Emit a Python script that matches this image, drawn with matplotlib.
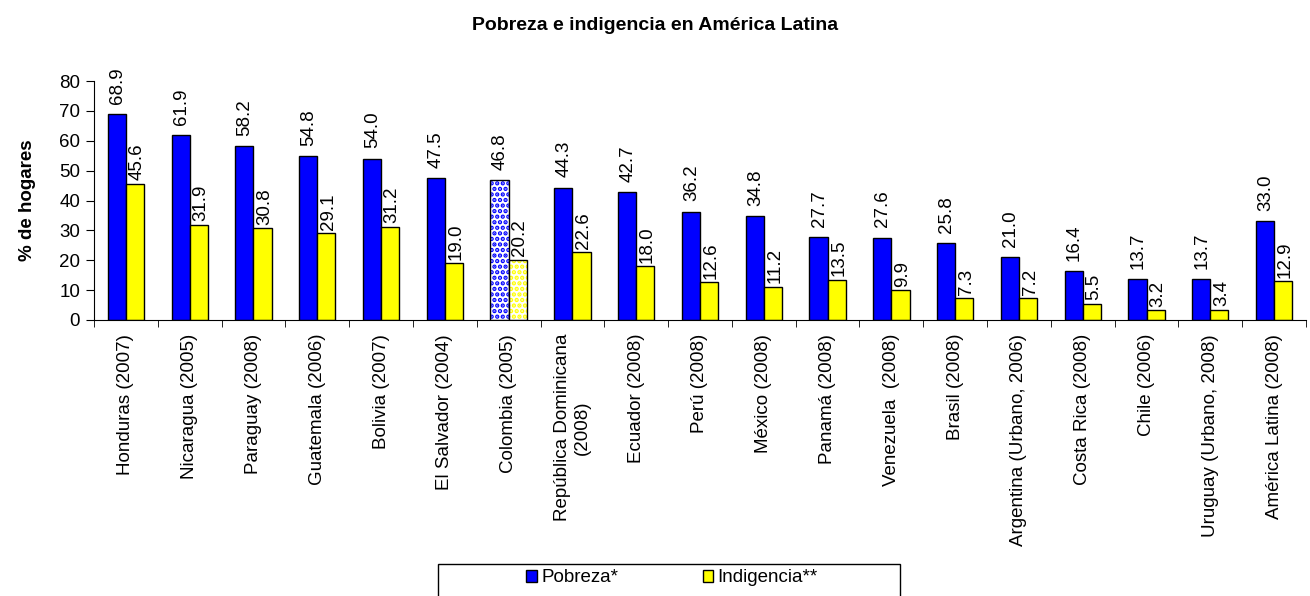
import matplotlib
matplotlib.use("Agg")
import matplotlib.pyplot as plt
from matplotlib.patches import Rectangle, Patch
import numpy as np

plt.rcParams['font.family'] = ['Liberation Sans', 'DejaVu Sans']
plt.rcParams['hatch.linewidth'] = 2.2

categories = ["Honduras (2007)", "Nicaragua (2005)", "Paraguay (2008)", "Guatemala (2006)",
              "Bolivia (2007)", "El Salvador (2004)", "Colombia (2005)",
              "República Dominicana\n(2008)", "Ecuador (2008)", "Perú (2008)", "México (2008)",
              "Panamá (2008)", "Venezuela  (2008)", "Brasil (2008)", "Argentina (Urbano, 2006)",
              "Costa Rica (2008)", "Chile (2006)", "Uruguay (Urbano, 2008)", "América Latina (2008)"]
pobreza = [68.9, 61.9, 58.2, 54.8, 54.0, 47.5, 46.8, 44.3, 42.7, 36.2, 34.8, 27.7, 27.6,
           25.8, 21.0, 16.4, 13.7, 13.7, 33.0]
indigencia = [45.6, 31.9, 30.8, 29.1, 31.2, 19.0, 20.2, 22.6, 18.0, 12.6, 11.2, 13.5, 9.9,
              7.3, 7.2, 5.5, 3.2, 3.4, 12.9]
hatched_category = "Colombia (2005)"

BLUE = "#0000FF"
YELLOW = "#FFFF00"
FS = 13.5

fig = plt.figure(figsize=(13.10, 5.96), dpi=100)
ax = fig.add_axes([94/1310, 1-320/596, (1306-94)/1310, (320-81)/596])

n = len(categories)
x = np.arange(n)
w = 0.285

for i in range(n):
    xb = x[i] - w/2
    xy = x[i] + w/2
    if categories[i] == hatched_category:
        ax.bar(xb, pobreza[i], w, color="white", edgecolor=BLUE, hatch="...", linewidth=0)
        ax.bar(xb, pobreza[i], w, fill=False, edgecolor="black", linewidth=1.0)
        ax.bar(xy, indigencia[i], w, color="white", edgecolor=YELLOW, hatch="...", linewidth=0)
        ax.bar(xy, indigencia[i], w, fill=False, edgecolor="black", linewidth=1.0)
    else:
        ax.bar(xb, pobreza[i], w, color=BLUE, edgecolor="black", linewidth=1.0)
        ax.bar(xy, indigencia[i], w, color=YELLOW, edgecolor="black", linewidth=1.0)
    ax.annotate(f"{pobreza[i]:.1f}", (xb, pobreza[i]), xytext=(0.5, 7.5), textcoords="offset points",
                rotation=90, ha="center", va="bottom", fontsize=FS)
    ax.annotate(f"{indigencia[i]:.1f}", (xy, indigencia[i]), xytext=(1.5, 2.5), textcoords="offset points",
                rotation=90, ha="center", va="bottom", fontsize=FS)

ax.set_xlim(-0.5, n - 0.5)
ax.set_ylim(0, 80)
ax.set_yticks(np.arange(0, 81, 10))
ax.tick_params(axis='y', labelsize=FS, direction='out', length=6, pad=4)
ax.set_xticks(x)
ax.set_xticklabels(categories, rotation=90, fontsize=FS, va='top', ha='center', multialignment='center')
ax.tick_params(axis='x', which='major', length=0, pad=10)
ax.set_xticks(np.arange(-0.5, n, 1), minor=True)
ax.tick_params(axis='x', which='minor', length=5, direction='out')
for s in ['top', 'right']:
    ax.spines[s].set_visible(False)
ax.set_ylabel("% de hogares", fontsize=FS, fontweight='bold', labelpad=17)

fig.text(0.5, 1-25/596, "Pobreza e indigencia en América Latina", ha='center', va='center',
         fontsize=14, fontweight='bold')

# legend box
fig.patches.append(Rectangle((438/1310, 0 - 0.01), (900-438)/1310, (596-564)/596 + 0.01,
                             transform=fig.transFigure, fill=False, edgecolor='black', linewidth=1.0))
handles = [Patch(facecolor=BLUE, edgecolor='black', label='Pobreza*'),
           Patch(facecolor=YELLOW, edgecolor='black', label='Indigencia**')]
fig.legend(handles=handles, loc='center', bbox_to_anchor=(672/1310, 1-578/596), ncol=2, frameon=False,
           fontsize=FS, handlelength=0.55, handleheight=0.55, handletextpad=0.25, columnspacing=4.5)

fig.savefig("out.png", dpi=100)
